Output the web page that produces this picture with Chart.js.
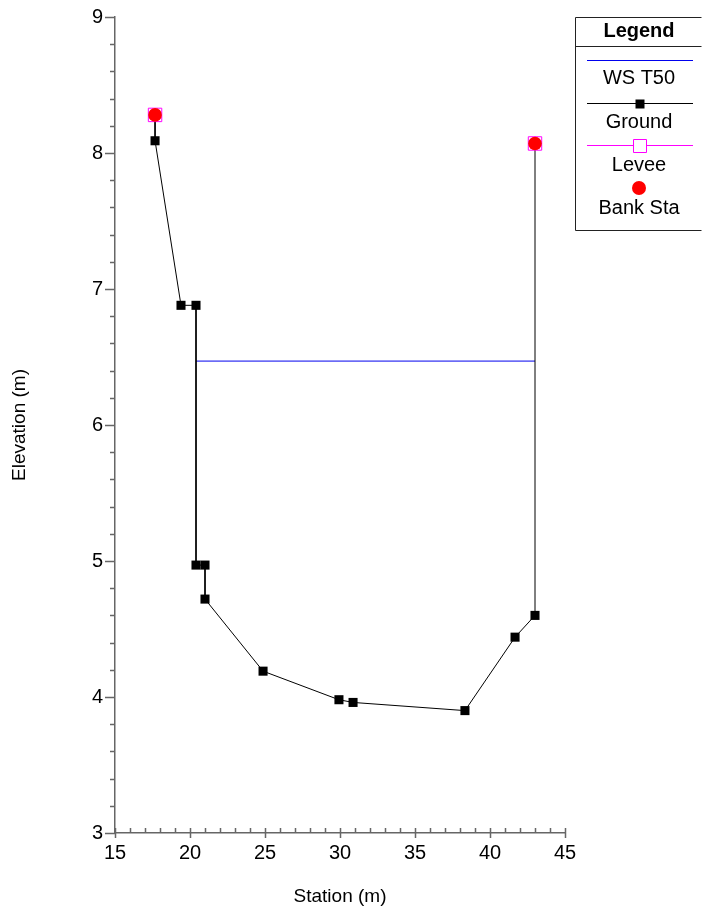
<!DOCTYPE html>
<html>
<head>
<meta charset="utf-8">
<script src="https://cdn.jsdelivr.net/npm/chart.js@4/dist/chart.umd.min.js"></script>
<style>
  html, body { margin: 0; padding: 0; background: #fff; }
  #wrap { width: 702px; height: 911px; position: relative; }
</style>
</head>
<body>
<div id="wrap"><canvas id="chartSeccion"></canvas></div>
<script>
// ---- datos de la sección ----
const wsStations = [20.4, 43.0];
const wsElev     = [6.47, 6.47];

const groundStations = [17.67, 17.67, 19.4, 20.4, 20.4, 21.0, 21.0, 24.87, 29.93, 30.87, 38.33, 41.67, 43.0, 43.0];
const groundElev     = [8.28, 8.09, 6.88, 6.88, 4.97, 4.97, 4.72, 4.19, 3.98, 3.96, 3.90, 4.44, 4.60, 8.07];

const leveeStations = [17.67, 43.0];
const leveeElev     = [8.28, 8.07];

const bankStations = [17.67, 43.0];
const bankElev     = [8.28, 8.07];

const xMin = 15, xMax = 45;
const yMin = 3, yMax = 9;

const FONT = 'Liberation Sans, Arial, sans-serif';

const pares = (xs, ys) => xs.map((x, i) => ({ x, y: ys[i] }));

// ---- ticks menores / mayores ----
const ticksPlugin = {
    id: 'ticksMenores',
    afterDraw(chart) {
        const ctx = chart.ctx;
        const sx = chart.scales.x;
        const sy = chart.scales.y;
        ctx.save();
        ctx.strokeStyle = '#666';
        ctx.lineWidth = 1.5;
        ctx.beginPath();
        for (let i = 0; i <= (yMax - yMin) * 5; i++) {
            const v = yMin + i * 0.2;
            const py = Math.round(sy.getPixelForValue(v)) + 0.5;
            const largo = (i % 5 === 0) ? 10 : 5;
            ctx.moveTo(sx.left - largo, py);
            ctx.lineTo(sx.left, py);
        }
        for (let v = xMin; v <= xMax; v++) {
            const px = Math.round(sx.getPixelForValue(v)) + 0.5;
            ctx.moveTo(px, sy.bottom - 5);
            ctx.lineTo(px, sy.bottom + ((v % 5 === 0) ? 5 : 0));
        }
        ctx.stroke();
        ctx.restore();
    }
};

// ---- leyenda en caja ----
const leyendaPlugin = {
    id: 'leyendaCaja',
    afterDraw(chart) {
        const ctx = chart.ctx;
        const left = 575.5, right = 701.5, top = 17.5, bottom = 230.5;
        const cx = 639;
        ctx.save();
        ctx.strokeStyle = '#222';
        ctx.lineWidth = 1;
        ctx.beginPath();
        ctx.moveTo(right, top); ctx.lineTo(left, top); ctx.lineTo(left, bottom); ctx.lineTo(right, bottom);
        ctx.moveTo(left, 46.5); ctx.lineTo(right, 46.5);
        ctx.stroke();

        ctx.fillStyle = '#000';
        ctx.textAlign = 'center';
        ctx.textBaseline = 'middle';
        ctx.font = 'bold 20px ' + FONT;
        ctx.fillText('Legend', cx, 31);

        const filas = [
            { ds: 0, lineY: 60.5, textY: 78 },
            { ds: 1, lineY: 103.5, textY: 122 },
            { ds: 2, lineY: 145.5, textY: 165 },
            { ds: 3, lineY: 188, textY: 208 }
        ];
        ctx.font = '20px ' + FONT;
        filas.forEach(f => {
            const ds = chart.data.datasets[f.ds];
            const m = ds.legendMarker;
            if (ds.legendLine) {
                ctx.strokeStyle = ds.legendLine;
                ctx.lineWidth = 1;
                ctx.beginPath();
                ctx.moveTo(587, f.lineY);
                ctx.lineTo(693, f.lineY);
                ctx.stroke();
            }
            if (m) {
                ctx.beginPath();
                if (m.style === 'circle') {
                    ctx.arc(cx, f.lineY, m.size / 2, 0, Math.PI * 2);
                } else {
                    const h = m.size / 2;
                    ctx.rect(Math.round(cx - h) + 0.5, Math.round(f.lineY - h) + 0.5, m.size, m.size);
                }
                if (m.fill) { ctx.fillStyle = m.fill; ctx.fill(); }
                if (m.stroke) { ctx.strokeStyle = m.stroke; ctx.lineWidth = 1; ctx.stroke(); }
            }
            ctx.fillStyle = '#000';
            ctx.fillText(ds.label, cx, f.textY);
        });
        ctx.restore();
    }
};

const ultimo = groundStations.length - 1;

new Chart(document.getElementById('chartSeccion').getContext('2d'), {
    type: 'scatter',
    data: {
        datasets: [
            {
                label: 'WS T50',
                data: pares(wsStations, wsElev),
                showLine: true,
                borderColor: '#0000ee',
                legendLine: '#0000ee',
                borderWidth: 1,
                pointRadius: 0,
                order: 3
            },
            {
                label: 'Ground',
                data: pares(groundStations, groundElev),
                showLine: true,
                borderColor: '#000',
                legendLine: '#000',
                legendMarker: { style: 'rect', size: 9, fill: '#000' },
                borderWidth: 1,
                pointStyle: 'rect',
                pointRadius: c => (c.dataIndex === 0 || c.dataIndex === ultimo) ? 0 : 6.4,
                pointBackgroundColor: '#000',
                pointBorderColor: '#000',
                pointBorderWidth: 0,
                order: 2
            },
            {
                label: 'Levee',
                data: pares(leveeStations, leveeElev),
                showLine: false,
                legendLine: '#ff00ff',
                legendMarker: { style: 'rect', size: 13, fill: '#fff', stroke: '#ff00ff' },
                pointStyle: 'rect',
                pointRadius: 9.5,
                pointBackgroundColor: 'rgba(0,0,0,0)',
                pointBorderColor: '#ff00ff',
                pointBorderWidth: 1,
                order: 1
            },
            {
                label: 'Bank Sta',
                data: pares(bankStations, bankElev),
                showLine: false,
                legendMarker: { style: 'circle', size: 14, fill: '#ff0000' },
                pointStyle: 'circle',
                pointRadius: 6.8,
                pointBackgroundColor: '#ff0000',
                pointBorderColor: '#ff0000',
                pointBorderWidth: 0,
                order: 0
            }
        ]
    },
    options: {
        responsive: true,
        maintainAspectRatio: false,
        animation: false,
        layout: { padding: { top: 17, right: 137, left: 0, bottom: 0 } },
        plugins: {
            legend: { display: false },
            tooltip: { enabled: false }
        },
        scales: {
            x: {
                type: 'linear',
                min: xMin,
                max: xMax,
                grid: { display: false, drawTicks: false },
                border: { display: true, color: '#666', width: 1.5 },
                ticks: {
                    stepSize: 5,
                    padding: 8,
                    color: '#000',
                    font: { family: FONT, size: 20 },
                    maxRotation: 0
                },
                title: {
                    display: true,
                    text: 'Station (m)',
                    color: '#000',
                    font: { family: FONT, size: 19 },
                    padding: { top: 0, bottom: 3 }
                },
                afterFit: s => { s.height = 78; s.paddingLeft = 0; s.paddingRight = 0; }
            },
            y: {
                type: 'linear',
                min: yMin,
                max: yMax,
                grid: { display: false, drawTicks: false },
                border: { display: true, color: '#666', width: 1.5 },
                ticks: {
                    stepSize: 1,
                    padding: 12,
                    color: '#000',
                    font: { family: FONT, size: 20 }
                },
                title: {
                    display: true,
                    text: 'Elevation (m)',
                    color: '#000',
                    font: { family: FONT, size: 19 },
                    padding: { top: 8, bottom: 0 }
                },
                afterFit: s => { s.width = 115; s.paddingTop = 0; s.paddingBottom = 0; }
            }
        }
    },
    plugins: [ticksPlugin, leyendaPlugin]
});
</script>
</body>
</html>
